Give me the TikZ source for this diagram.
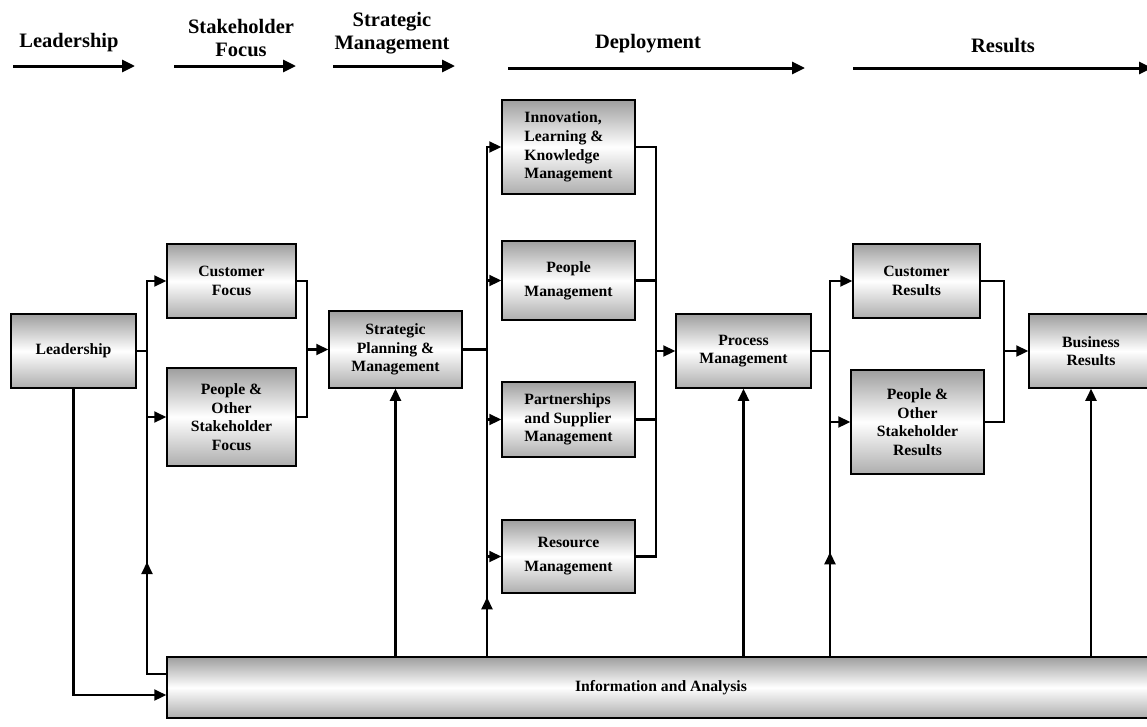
\documentclass[tikz,border=0pt]{standalone}
\usepackage{fontspec}
\setmainfont{Liberation Serif}
\usetikzlibrary{arrows.meta}

\begin{document}
\begin{tikzpicture}[x=1pt, y=-1pt,
	box/.style={draw, line width=1.5pt, top color=black!38, bottom color=black!32,
		middle color=white, inner sep=2pt, align=center,
		font=\bfseries\fontsize{15.7}{18.6}\selectfont},
	hdr/.style={align=center, font=\bfseries\fontsize{20.5}{23}\selectfont},
	link/.style={line width=2.2pt},
	flow/.style={line width=2.2pt, -{Triangle[length=12pt,width=11pt]}},
	bar/.style={line width=3pt, -{Triangle[length=13pt,width=12pt]}}]

\useasboundingbox (0,0) rectangle (1147,726);

% --- header labels and arrows
\node[hdr] (hLead) at (69,43) {Leadership};
\node[hdr] (hStake) at (241,38) {Stakeholder\\Focus};
\node[hdr] (hStrat) at (392,33) {Strategic\\Management};
\node[hdr] (hDep) at (648,44) {Deployment};
\node[hdr] (hRes) at (1003,46) {Results};

\foreach \name/\xa/\xb/\yy in {
	lead/13/135/66,
	stake/174/296/66,
	strat/333/455/66,
	dep/508/805/68,
	res/853/1152/68} {
	\coordinate (\name A) at (\xa,\yy);
	\coordinate (\name B) at (\xb,\yy);
	\draw[bar] (\name A) -- (\name B);
}

% --- boxes
\node[box, minimum width=125pt, minimum height=74pt] (lead) at (73.5,351) {Leadership};
\node[box, minimum width=129pt, minimum height=74pt] (cf) at (231.5,281) {Customer\\Focus};
\node[box, minimum width=129pt, minimum height=98pt] (pf) at (231.5,417) {People \&\\Other\\Stakeholder\\Focus};
\node[box, minimum width=133pt, minimum height=77pt] (spm) at (395.5,349.5) {Strategic\\Planning \&\\Management};

\node[box, align=left, minimum width=133pt, minimum height=94pt] (ilk) at (568.5,147) {Innovation,\\Learning \&\\Knowledge\\Management};
\node[box, minimum width=133pt, minimum height=79pt] (pm) at (568.5,280.5) {People\\[5.5pt]Management};
\node[box, align=left, minimum width=133pt, minimum height=75pt] (psm) at (568.5,419.5) {Partnerships\\and Supplier\\Management};
\node[box, minimum width=133pt, minimum height=73pt] (rm) at (568.5,556.5) {Resource\\[5.5pt]Management};

\node[box, minimum width=135pt, minimum height=74pt] (proc) at (743.5,351) {Process\\Management};
\node[box, minimum width=127pt, minimum height=74pt] (cr) at (916.5,281) {Customer\\Results};
\node[box, minimum width=133pt, minimum height=104pt] (pr) at (917.5,422) {People \&\\Other\\Stakeholder\\Results};
\node[box, minimum width=124pt, minimum height=74pt] (br) at (1091,351) {Business\\Results};

\node[box, minimum width=988pt, minimum height=61pt] (info) at (661,687.5) {Information and Analysis};

% --- bus positions
\coordinate (busA) at (147,351);
\coordinate (busB) at (307,350);
\coordinate (busC) at (487,350);
\coordinate (busD) at (656,350);
\coordinate (busE) at (830,350);
\coordinate (busF) at (1004,350);

% leadership to stakeholder focus
\draw[link] (lead.east) -- (busA);
\draw[flow] (info.west |- 0,674) -| (busA |- cf) -- (cf.west);
\draw[flow] (busA |- pf) -- (pf.west);
\draw[flow] (busA |- 0,674) -- ++(0,-112);
\draw[flow] (lead.south) |- (info.west |- 0,695);

% stakeholder focus to strategy
\draw[link] (cf.east) -| (busB |- pf) -- (pf.east);
\draw[flow] (spm.west -| busB) -- (spm.west);

% strategy to deployment
\draw[link] (spm.east) -- (spm.east -| busC);
\draw[flow] (busC |- info.north) -- (busC |- ilk) -- (ilk.west);
\foreach \n in {pm,psm,rm}
	\draw[flow] (busC |- \n) -- (\n.west);
\draw[flow] (busC |- info.north) -- ++(0,-59);

% deployment to process
\draw[link] (ilk.east) -| (busD |- rm.east) -- (rm.east);
\foreach \n in {pm,psm}
	\draw[link] (\n.east) -- (\n.east -| busD);
\draw[flow] (proc.west -| busD) -- (proc.west);

% process to results
\draw[link] (proc.east) -- (proc.east -| busE);
\draw[flow] (busE |- info.north) -- (busE |- cr) -- (cr.west);
\draw[flow] (busE |- pr) -- (pr.west);
\draw[flow] (busE |- info.north) -- ++(0,-104);
\draw[link] (cr.east) -| (busF |- pr) -- (pr.east);
\draw[flow] (br.west -| busF) -- (br.west);

% information feeds
\foreach \n in {spm,proc,br}
	\draw[flow] (\n.south |- info.north) -- (\n.south);

\end{tikzpicture}
\end{document}
